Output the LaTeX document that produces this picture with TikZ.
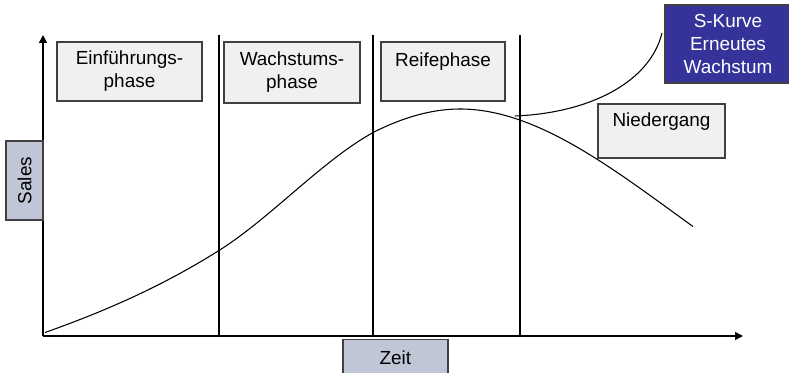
\documentclass[tikz,border=0pt]{standalone}
\usepackage{fontspec}
\setmainfont{Liberation Sans}
\usepackage{tikz}
\usetikzlibrary{arrows.meta,positioning}
\usepackage{xcolor}
\definecolor{pgray}{HTML}{F0F0F0}
\definecolor{pedge}{HTML}{404040}
\definecolor{axblue}{HTML}{C0C6D6}
\definecolor{skblue}{HTML}{333399}
\newdimen\pxu
\pxu=0.75pt
\tikzset{
  phasebox/.style = {draw=pedge, line width=1.1pt, fill=pgray, rectangle,
                     align=center, inner sep=0pt},
  axbox/.style    = {draw=pedge, line width=1.1pt, fill=axblue, rectangle,
                     align=center, inner sep=0pt},
  axis/.style     = {-{Triangle[length=6pt,width=6pt]}, line width=1.1pt},
  divider/.style  = {line width=1.6pt},
  lifecurve/.style= {line width=0.8pt},
}

\begin{document}
\begin{tikzpicture}[x=0.75pt, y=-0.75pt,
    font=\fontsize{14.2}{17.3}\selectfont]
\useasboundingbox (0,0) rectangle (789,373);
% ---- axes ----
\coordinate (o) at (43,336);
\coordinate (ytop) at (43,35);
\coordinate (xend) at (743,336);
\draw[axis] (o) -- (ytop);
\draw[axis] (o) -- (xend);
% ---- phase dividers ----
\foreach \x/\nm in {219/da, 373/db, 520/dc} {
  \coordinate (\nm top) at (\x,35);
  \coordinate (\nm bot) at (\x,336);
  \draw[divider] (\nm top) -- (\nm bot);
}
% ---- product life cycle ----
\coordinate (cstart) at (45,332.5);
\coordinate (cpeak) at (460,109);
\coordinate (cend) at (693,226.5);
\draw[lifecurve] (cstart) .. controls (103,312) and (161,287) .. (219,250.5)
  .. controls (271,217.7) and (322,160.6) .. (374,132)
  .. controls (402.7,117.7) and (431.3,109) .. (cpeak)
  .. controls (537.7,109) and (615.3,170.6) .. (cend);
% ---- renewed growth branch ----
\coordinate (sstart) at (515,116);
\coordinate (send) at (662,33);
\draw[lifecurve] (sstart) .. controls (590,113) and (650,82) .. (send);
% ---- phase labels ----
\node[phasebox, minimum width=145\pxu, minimum height=59\pxu] (einf)
      at (129.5,71.5) {Einführungs-\\phase};
\node[phasebox, minimum width=136\pxu, minimum height=61\pxu] (wachs)
      at (292,72.5) {Wachstums-\\phase};
\node[phasebox, minimum width=124\pxu, minimum height=59\pxu] (reife)
      at (443,71.5) {Reifephase\\\mbox{}};
\node[phasebox, minimum width=127\pxu, minimum height=54\pxu] (nieder)
      at (661.5,131) {Niedergang\\\mbox{}};
\node[phasebox, fill=skblue, text=white, minimum width=126\pxu,
      minimum height=78\pxu] (skurve)
      at (728,44) {S-Kurve\\Erneutes\\Wachstum};
% ---- axis labels ----
\node[axbox, rotate=90, minimum width=79\pxu, minimum height=37\pxu] (sales)
      at (24.5,180.5) {Sales};
\node[axbox, minimum width=105\pxu, minimum height=36\pxu] (zeit)
      at (395.3,357.5) {Zeit};
\end{tikzpicture}
\end{document}
